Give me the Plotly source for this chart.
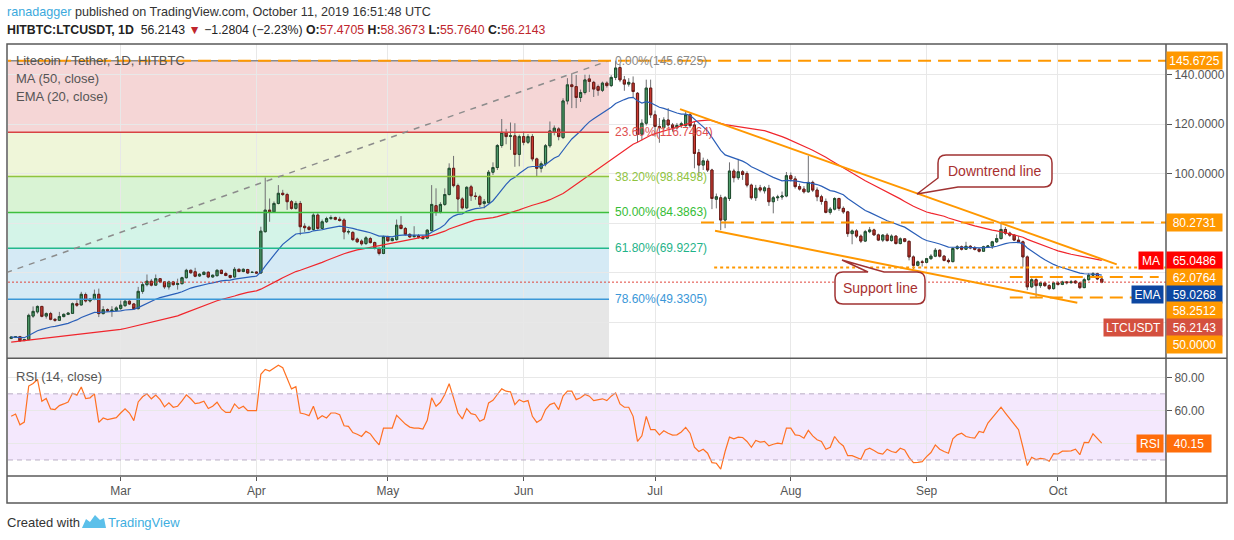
import pandas as pd
import plotly.graph_objects as go

# HITBTC:LTCUSDT daily candles, 2019-02-04 .. 2019-10-11
opens = [
    # Feb
    33.5, 34.0, 34.2, 32.6, 33.0, 42.5, 44.2, 46.4, 42.5, 43.5, 41.2, 40.8, 42.3, 43.2, 43.6, 47.5, 47.0, 51.2, 48.6, 49.2,
    51.3, 43.5, 45.1, 44.6, 44.8,
    # Mar
    45.6, 46.7, 48.5, 47.4, 45.5, 52.5, 55.2, 56.6, 55.0, 57.6, 56.3, 54.3, 56.3, 55.3, 55.6, 58.0, 61.0, 60.4, 58.7, 59.3,
    60.2, 58.3, 58.8, 61.0, 59.7, 58.9, 58.3, 61.4, 60.5, 61.3, 60.1,
    # Apr
    60.3, 59.9, 76.6, 85.3, 84.6, 88.0, 92.1, 91.6, 88.7, 86.0, 88.0, 78.8, 78.4, 77.5, 83.3, 77.9, 80.6, 81.9, 82.3, 81.6,
    81.3, 76.5, 76.3, 73.6, 72.8, 71.8, 73.8, 72.2, 69.8, 67.8,
    # May
    74.5, 73.0, 73.4, 79.2, 77.9, 75.5, 74.6, 74.9, 74.5, 74.0, 77.0, 87.1, 84.6, 87.6, 91.6, 102.2, 95.2, 89.8, 86.2, 94.7,
    91.0, 90.7, 88.0, 88.3, 100.6, 102.5, 111.4, 116.6, 115.1, 115.3, 107.8,
    # Jun
    115.0, 112.7, 115.0, 106.0, 102.2, 104.0, 111.3, 116.8, 118.1, 114.6, 129.4, 135.9, 135.2, 130.8, 132.8, 138.3, 136.9,
    135.2, 133.7, 136.6, 135.6, 138.9, 142.9, 137.9, 136.2, 136.6, 132.5, 116.0, 120.4, 134.6,
    # Jul
    123.8, 119.1, 118.6, 121.7, 119.7, 118.6, 119.5, 119.4, 123.8, 119.7, 108.5, 103.5, 105.1, 101.5, 89.7, 90.3, 81.3,
    90.0, 101.1, 98.4, 100.8, 100.1, 95.4, 90.3, 94.3, 93.1, 94.1, 88.7, 90.3, 90.6, 91.0,
    # Aug
    99.2, 97.9, 94.8, 93.8, 92.7, 96.5, 93.4, 90.7, 88.8, 84.4, 85.7, 90.0, 86.0, 84.6, 75.8, 76.9, 74.8, 72.8, 76.6, 77.3,
    75.3, 73.2, 75.2, 73.0, 74.8, 71.8, 73.7, 72.7, 66.4, 63.0, 64.4,
    # Sep
    64.2, 65.7, 66.7, 69.1, 66.7, 65.0, 64.5, 69.8, 70.5, 69.5, 70.7, 70.0, 69.5, 68.7, 70.5, 70.8, 72.5, 73.8, 77.5, 76.0,
    75.2, 73.2, 72.5, 66.4, 54.3, 57.2, 54.8, 55.9, 54.8, 53.6,
    # Oct
    55.9, 55.3, 56.3, 56.0, 56.6, 55.9, 54.0, 57.2, 59.0, 59.6, 57.4705,
]
highs = [
    34.3, 34.4, 34.5, 33.3, 43.5, 46.4, 46.8, 46.6, 44.0, 44.2, 41.6, 44.2, 43.6, 44.0, 48.0, 48.9, 52.3, 52.0, 49.8, 53.2,
    53.6, 46.5, 45.6, 46.5, 46.5,
    48.8, 48.9, 48.9, 47.8, 54.3, 56.3, 59.3, 57.5, 59.3, 57.8, 56.6, 56.8, 56.7, 57.6, 58.4, 61.6, 61.3, 62.0, 59.8, 60.6,
    60.6, 59.3, 61.4, 61.3, 60.4, 59.2, 62.3, 61.7, 61.8, 61.6, 60.5,
    60.6, 78.6, 98.5, 90.0, 88.8, 95.4, 93.5, 92.3, 89.4, 89.0, 89.0, 80.0, 79.0, 84.0, 84.0, 81.5, 82.6, 83.2, 82.7, 82.6,
    82.0, 77.5, 76.8, 74.2, 73.5, 74.8, 74.5, 72.6, 70.3, 75.0,
    75.0, 74.2, 81.5, 82.9, 78.5, 76.0, 78.8, 75.6, 75.0, 77.6, 95.4, 94.1, 88.5, 94.1, 104.2, 107.2, 96.0, 90.5, 95.0,
    95.5, 92.5, 91.5, 89.8, 101.5, 104.6, 112.0, 122.1, 118.1, 120.7, 120.4, 115.8,
    117.0, 116.0, 116.0, 106.5, 105.0, 112.0, 121.1, 119.5, 118.8, 130.5, 138.6, 140.6, 139.9, 134.0, 140.0, 140.0, 137.5,
    136.0, 137.2, 137.3, 139.8, 145.67, 144.3, 139.5, 138.6, 139.3, 133.0, 122.0, 138.0, 138.0,
    125.5, 122.5, 122.8, 126.5, 120.5, 120.5, 121.0, 125.0, 124.5, 121.0, 110.0, 106.5, 106.0, 102.0, 92.0, 91.5, 91.0,
    104.6, 102.0, 106.0, 101.5, 101.0, 96.0, 95.5, 95.5, 95.0, 95.5, 91.0, 91.5, 92.8, 100.7,
    100.5, 99.0, 96.0, 95.0, 107.2, 97.2, 94.5, 91.5, 90.0, 86.5, 90.5, 90.3, 86.8, 85.0, 77.5, 77.6, 75.5, 77.3, 78.5,
    77.8, 75.8, 75.6, 76.0, 75.5, 75.2, 74.3, 74.0, 73.0, 67.0, 64.9, 65.2,
    66.0, 67.5, 70.0, 69.5, 67.2, 65.8, 70.3, 71.2, 71.0, 72.5, 71.2, 70.8, 70.0, 70.9, 71.2, 72.9, 75.5, 80.6, 78.5, 76.6,
    75.6, 74.8, 73.0, 67.0, 57.8, 57.8, 56.4, 56.3, 55.4, 56.4,
    56.6, 56.8, 56.6, 57.1, 57.0, 56.4, 58.0, 59.8, 60.3, 60.0, 58.3673,
]
lows = [
    33.2, 33.7, 32.3, 32.4, 32.9, 41.8, 43.5, 42.0, 41.5, 40.8, 40.2, 40.5, 42.0, 42.9, 43.4, 46.2, 46.8, 48.0, 48.0, 48.9,
    42.1, 43.2, 44.2, 42.2, 44.4,
    45.0, 46.3, 47.0, 45.0, 45.2, 51.5, 54.5, 54.5, 54.8, 55.8, 53.5, 53.2, 54.8, 53.2, 55.3, 57.7, 59.6, 58.2, 58.3, 59.0,
    57.8, 58.0, 58.6, 59.4, 58.6, 57.6, 58.0, 60.2, 60.2, 59.6, 59.9,
    59.6, 59.6, 76.2, 80.6, 84.2, 87.6, 91.0, 85.4, 85.5, 85.5, 75.2, 76.5, 77.0, 77.0, 77.4, 77.5, 80.1, 81.3, 81.2, 80.7,
    73.5, 75.5, 72.8, 72.0, 71.0, 71.2, 71.8, 69.4, 67.0, 67.5,
    72.5, 72.7, 73.0, 77.5, 75.0, 74.0, 74.2, 73.8, 73.4, 73.6, 76.8, 83.0, 84.0, 87.0, 91.2, 94.5, 84.6, 85.5, 85.8, 89.0,
    89.5, 86.5, 86.0, 88.0, 99.5, 101.5, 110.5, 111.9, 109.6, 102.8, 103.0,
    111.5, 112.0, 105.0, 98.8, 100.5, 103.0, 110.5, 115.5, 113.5, 114.0, 128.0, 126.5, 126.5, 129.0, 132.0, 133.0, 131.0,
    131.5, 133.0, 134.8, 135.0, 137.8, 137.0, 133.5, 135.2, 131.0, 112.7, 113.5, 119.5, 122.5,
    115.0, 112.5, 117.5, 119.0, 117.0, 117.8, 118.5, 119.0, 118.5, 102.2, 98.8, 101.5, 100.7, 85.7, 86.0, 77.2, 78.0, 89.0,
    96.5, 97.5, 97.5, 94.5, 89.5, 89.0, 92.5, 92.0, 87.0, 84.0, 89.0, 89.5, 90.5,
    96.8, 94.0, 93.2, 92.0, 92.3, 92.6, 88.9, 87.5, 84.0, 83.5, 85.2, 85.0, 83.8, 74.5, 71.5, 74.0, 72.0, 72.4, 76.0, 75.0,
    72.8, 72.4, 72.6, 72.6, 71.4, 71.5, 72.3, 65.0, 61.5, 62.6, 62.5,
    63.8, 65.2, 66.3, 66.2, 64.6, 63.8, 64.2, 69.2, 69.0, 69.2, 69.5, 69.0, 68.2, 68.5, 70.0, 69.6, 72.0, 73.5, 75.2, 74.5,
    72.8, 72.0, 62.4, 53.0, 53.8, 50.2, 53.9, 54.3, 53.0, 53.2,
    54.8, 55.0, 55.3, 55.6, 55.6, 53.4, 53.8, 56.8, 58.2, 57.0, 55.764,
]
closes = [
    34.0, 34.1, 32.5, 33.0, 42.8, 44.4, 46.4, 42.4, 43.5, 41.2, 40.8, 42.3, 43.2, 43.7, 47.5, 46.9, 51.3, 48.6, 49.3, 51.3,
    43.5, 45.1, 44.6, 44.9, 45.8,
    46.9, 48.5, 47.4, 45.5, 52.5, 55.2, 56.6, 55.0, 57.6, 56.3, 54.3, 56.3, 55.2, 55.6, 58.0, 61.0, 60.0, 58.6, 59.4, 60.2,
    58.3, 59.0, 61.0, 59.7, 58.9, 58.1, 61.4, 60.5, 61.4, 59.9, 60.2,
    59.9, 76.8, 85.3, 84.5, 88.0, 92.1, 91.6, 88.7, 86.0, 88.0, 78.6, 78.2, 77.5, 83.3, 77.9, 80.6, 81.9, 82.3, 81.6, 81.1,
    76.5, 76.6, 73.4, 72.5, 71.7, 74.1, 72.2, 69.8, 67.8, 74.5,
    72.9, 73.8, 79.2, 77.9, 75.5, 74.5, 74.9, 74.4, 73.8, 77.2, 87.6, 84.6, 87.6, 91.6, 102.2, 95.2, 89.8, 86.2, 94.5, 91.1,
    90.8, 87.6, 88.7, 100.6, 102.5, 111.4, 116.7, 115.0, 115.3, 107.8, 115.0,
    112.7, 115.0, 106.0, 102.2, 104.0, 111.3, 117.3, 118.4, 115.0, 129.4, 135.9, 135.2, 130.8, 132.8, 137.9, 137.3, 134.2,
    133.7, 136.6, 135.6, 138.9, 142.7, 137.9, 136.2, 136.9, 133.2, 115.9, 120.4, 134.6, 123.8,
    119.1, 118.6, 121.7, 119.7, 118.6, 119.5, 120.2, 123.8, 119.4, 108.2, 103.5, 105.2, 101.5, 90.0, 90.7, 81.3, 90.3,
    101.1, 98.4, 100.8, 99.7, 95.4, 90.3, 94.1, 93.4, 94.3, 88.7, 90.3, 90.6, 91.0, 99.2,
    97.9, 94.8, 93.8, 92.7, 96.5, 93.4, 90.7, 88.8, 84.4, 85.7, 90.0, 86.0, 84.6, 75.8, 76.9, 74.8, 72.8, 76.6, 77.3, 75.3,
    73.2, 75.2, 73.0, 74.8, 71.8, 73.7, 72.7, 66.4, 63.0, 64.4, 64.2,
    65.7, 66.7, 69.1, 66.7, 65.0, 64.5, 69.8, 70.5, 69.5, 70.7, 70.0, 69.5, 68.7, 70.5, 70.8, 72.5, 73.8, 77.5, 76.0, 75.2,
    73.2, 72.5, 66.4, 54.3, 57.2, 54.8, 55.9, 54.8, 53.6, 55.9,
    55.3, 56.3, 56.0, 56.3, 55.9, 54.0, 57.2, 59.0, 59.6, 57.5, 56.2143,
]

# RSI (14, close) as drawn in the lower pane, one value per candle
rsi_values = [
    56.4, 57.8, 51.3, 52.9, 74.7, 76.3, 78.7, 65.5, 67.2, 60.9, 60.5, 62.9, 63.9, 65.1, 70.4, 69.2, 74.1, 67.2, 67.6, 70,
    52.7, 55.4, 54.4, 54.8, 55.6, 58.4, 60.9, 58.4, 53.8, 65.1, 68.2, 70, 67, 69.2, 66.5, 62.1, 64.5, 61.9, 62.5, 65.7,
    69.4, 67, 64.1, 64.5, 65.5, 61.1, 62.5, 64.9, 60.9, 58.8, 58.8, 63.9, 61.1, 62.5, 59.8, 59.8, 59.8, 81.8, 84.8, 83.8,
    85.4, 87.3, 85.8, 79.7, 73, 74.3, 58.4, 57.8, 56.8, 62.5, 54.8, 56.8, 55.4, 58.4, 58.4, 57.4, 50.7, 50.3, 46.6, 45.6,
    44.2, 47.3, 45.8, 42.2, 39.1, 49.3, 49.1, 49.3, 57, 54.4, 51.7, 49.9, 49.3, 49.3, 48.7, 54, 67.6, 62.5, 64.9, 69.6,
    76.1, 67.6, 58.4, 54.8, 61.1, 58, 57.4, 53.4, 54.8, 64.5, 66.1, 69.6, 73, 71.6, 71.2, 63.5, 66.5, 65.1, 65.9,
    56.4, 52.7, 54.4, 60.5, 63.5, 64.5, 60.5, 68.6, 71.6, 71.6, 66.5, 67.6, 69.6, 68.6, 65.9, 66.5, 67, 65.9, 68.6, 70.6,
    63.9, 61.9, 61.9, 56.4, 41.2, 44.6, 56.4, 48.3, 48.3, 45.2, 47.7, 46.2, 45, 45.2, 46.9, 49.7, 46.2, 37.7, 35.1, 36.5,
    34.1, 28.4, 28, 24.5, 35.1, 43.8, 42.8, 43.8, 43.6, 41.2, 37.7, 41.8, 40.8, 41.2, 38.5, 39.5, 40.2, 39.7, 49.3, 49.3,
    45.2, 44.8, 43.2, 47.9, 44.6, 42.2, 41.2, 36.5, 37.7, 44.2, 40.6, 38.5, 32.6, 32.6, 31.6, 30.4, 36.1, 37.1, 35.7, 34.1,
    33.5, 36.5, 35.1, 34.5, 37.1, 36.1, 31.6, 28.4, 28.6, 29, 32, 34.5, 39.1, 36.5, 35.1, 34.1, 42.8, 45.2,
    46.2, 44.2, 43.6, 43.2, 47.3, 46.6, 52.3, 55.4, 58.4, 61.9, 58.4, 55, 51.7, 48.3, 37.7,
    26.6, 31.6, 30.2, 31, 30.6, 29.2, 33.8, 33.6, 35.3, 35.3, 35.5, 36.5, 33.2, 40.7, 40.5, 45.8, 42.9, 40.15,
]

# MA(50) for the first 49 days, where the chart had older history behind it
ma50_head = [
    32.0, 32.2, 32.4, 32.6, 32.8, 33.0, 33.2, 33.4, 33.6, 33.8, 34.0, 34.2, 34.5, 34.7, 34.9, 35.1, 35.3, 35.5, 35.7, 35.9,
    36.1, 36.3, 36.5, 36.7, 36.9, 37.1, 37.5, 37.9, 38.3, 38.7, 39.1, 39.5, 39.9, 40.3, 40.7, 41.1, 41.5, 42.0, 42.6, 43.3,
    44.0, 44.7, 45.4, 46.1, 46.8, 47.5, 48.1, 48.7, 49.2,
]

# Fibonacci retracement (Dec-2018 low -> Jun-2019 high)
fib_dates = ["2018-12-05 10:00", "2019-06-20 12:00"]
fib_ratios = ["0.00%", "23.60%", "38.20%", "50.00%", "61.80%", "78.60%"]
fib_prices = [145.6725, 116.7464, 98.8498, 84.3863, 69.9227, 49.3305]
fib_bottom = 23.0893

# horizontal levels drawn by the author
level_prices = [145.6725, 80.2731, 62.0764, 58.2512, 50.0]
level_starts = ["2019-02-01", "2019-07-11 12:00", "2019-07-14 12:00", "2019-09-20", "2019-09-20"]
level_ends = ["2019-10-26", "2019-10-26", "2019-10-26", "2019-10-24", "2019-10-24"]

# trend lines
downtrend_dates = ["2019-07-06 17:00", "2019-10-14 10:00"]
downtrend_prices = [126.1, 63.4]
support_dates = ["2019-07-14 17:00", "2019-10-05 10:00"]
support_prices = [77.0, 47.9]

# price-scale tags (value, colour, name)
tag_values = [145.6725, 80.2731, 65.0486, 62.0764, 59.0268, 58.2512, 56.2143, 50.0]
tag_colors = ["#ff9800", "#ff9800", "#ff0000", "#ff9800", "#0d47a1", "#ff9800", "#d4503f", "#ff9800"]
tag_names = ["", "", "MA", "", "EMA", "", "LTCUSDT", ""]
rsi_last = 40.15

# ------------------------------------------------------------------
W, H = 1234, 540
ML, MR, MT, MB = 8, 68, 44, 64
PW, PH = W - ML - MR, H - MT - MB
PANE_SPLIT = 358.3            # pixel row between price and RSI panes
price_range = [25.45, 152.4]
rsi_range = [20.3, 91.5]
x_range = ["2019-02-03 06:30", "2019-10-25 16:00"]
FONT = "Liberation Sans, Arial, sans-serif"


def fx(px):
    return (px - ML) / PW


def fy(py):
    return (H - MB - py) / PH


def price_px(p):
    return MT + (price_range[1] - p) / (price_range[1] - price_range[0]) * (PANE_SPLIT - MT)


dates = pd.date_range("2019-02-04", "2019-10-11", freq="D")
close_s = pd.Series(closes, index=dates)
ema20 = close_s.ewm(span=20, adjust=False).mean()
ma50 = close_s.rolling(50).mean()
ma50.iloc[:len(ma50_head)] = ma50_head

body_hi = [max(o, c) for o, c in zip(opens, closes)]
body_lo = [min(o, c) for o, c in zip(opens, closes)]

fig = go.Figure()

# wicks (grey) then bodies with dark borders
fig.add_trace(go.Candlestick(
    x=dates, open=opens, high=highs, low=lows, close=closes,
    increasing=dict(line=dict(color="#6f6f72", width=1), fillcolor="#4f9d6b"),
    decreasing=dict(line=dict(color="#6f6f72", width=1), fillcolor="#cc3b32"),
    hoverinfo="skip", showlegend=False, xaxis="x", yaxis="y",
))
fig.add_trace(go.Candlestick(
    x=dates, open=opens, high=body_hi, low=body_lo, close=closes,
    increasing=dict(line=dict(color="#1f4d2e", width=1), fillcolor="#4f9d6b"),
    decreasing=dict(line=dict(color="#6b1b16", width=1), fillcolor="#cc3b32"),
    hoverinfo="skip", showlegend=False, xaxis="x", yaxis="y",
))
fig.add_trace(go.Scatter(x=dates, y=ma50, mode="lines", line=dict(color="#f0262d", width=1.2),
                         hoverinfo="skip", showlegend=False, xaxis="x", yaxis="y"))
fig.add_trace(go.Scatter(x=dates, y=ema20, mode="lines", line=dict(color="#2b5fb8", width=1.2),
                         hoverinfo="skip", showlegend=False, xaxis="x", yaxis="y"))
fig.add_trace(go.Scatter(x=dates, y=rsi_values, mode="lines", line=dict(color="#ff7122", width=1.2),
                         hoverinfo="skip", showlegend=False, xaxis="x2", yaxis="y2"))

shapes = []
annotations = []

# --- fib retracement ---
fib_band_colors = ["#f5d6d6", "#eff6d9", "#d9f3d4", "#d4f4e8", "#d5eaf5", "#e6e6e6"]
fib_line_colors = ["#8a8a8a", "#d84343", "#8fc43f", "#3dbf3d", "#22b88c", "#3b98d8"]
fib_text_colors = ["#8a8a8a", "#e05050", "#8fc43f", "#36bd36", "#1fb389", "#3a97d8"]
edges = fib_prices + [fib_bottom]
for i in range(len(fib_prices)):
    shapes.append(dict(type="rect", xref="x", yref="y", x0=fib_dates[0], x1=fib_dates[1],
                       y0=edges[i + 1], y1=edges[i], fillcolor=fib_band_colors[i],
                       line=dict(width=0), layer="below"))
for i, p in enumerate(fib_prices):
    shapes.append(dict(type="line", xref="x", yref="y", x0=fib_dates[0], x1=fib_dates[1],
                       y0=p, y1=p, line=dict(color=fib_line_colors[i], width=1.5)))
    annotations.append(dict(xref="paper", yref="y", x=fx(613), y=p, xanchor="left", yanchor="middle",
                            text=f"{fib_ratios[i]}({p:.4f})", showarrow=False,
                            font=dict(family=FONT, size=12, color=fib_text_colors[i])))
shapes.append(dict(type="line", xref="x", yref="y", x0=fib_dates[0], x1=fib_dates[1],
                   y0=fib_bottom, y1=fib_prices[0], line=dict(color="#8c8c8c", width=1.5, dash="6px,6px")))

# --- RSI band ---
shapes.append(dict(type="rect", xref="paper", yref="y2", x0=0, x1=1, y0=30, y1=70,
                   fillcolor="#f4e8fd", line=dict(width=0), layer="below"))
for v in (30, 70):
    shapes.append(dict(type="line", xref="paper", yref="y2", x0=0, x1=1, y0=v, y1=v,
                       line=dict(color="#b9aec4", width=1, dash="5px,4px")))

# --- current price line ---
shapes.append(dict(type="line", xref="paper", yref="y", x0=0, x1=1, y0=closes[-1], y1=closes[-1],
                   line=dict(color="#e0443a", width=1, dash="2px,2px")))

# --- author's levels ---
level_dash = ["13px,7px", "13px,7px", "3px,3px", "13px,7px", "13px,7px"]
for p, s, e, d in zip(level_prices, level_starts, level_ends, level_dash):
    shapes.append(dict(type="line", xref="x", yref="y", x0=s, x1=e, y0=p, y1=p,
                       line=dict(color="#ff9800", width=2, dash=d)))

# --- trend lines ---
for xs, ys in ((downtrend_dates, downtrend_prices), (support_dates, support_prices)):
    shapes.append(dict(type="line", xref="x", yref="y", x0=xs[0], x1=xs[1], y0=ys[0], y1=ys[1],
                       line=dict(color="#ff9800", width=2)))


# --- callouts ---
def pt(x, y):
    return f"{fx(x):.5f},{fy(y):.5f}"


def callout(x0, y0, x1, y1, r, pointer, side):
    p = [f"M{pt(x0 + r, y0)}"]
    if side == "top":
        p += [f"L{pt(*pointer[0])}", f"L{pt(*pointer[1])}", f"L{pt(*pointer[2])}"]
    p += [f"L{pt(x1 - r, y0)}", f"Q{pt(x1, y0)} {pt(x1, y0 + r)}",
          f"L{pt(x1, y1 - r)}", f"Q{pt(x1, y1)} {pt(x1 - r, y1)}"]
    if side == "bottomleft":
        p += [f"L{pt(*pointer[0])}", f"L{pt(*pointer[1])}", f"L{pt(*pointer[2])}"]
    else:
        p += [f"L{pt(x0 + r, y1)}", f"Q{pt(x0, y1)} {pt(x0, y1 - r)}"]
    p += [f"L{pt(x0, y0 + r)}", f"Q{pt(x0, y0)} {pt(x0 + r, y0)}", "Z"]
    return " ".join(p)


shapes.append(dict(type="path", xref="paper", yref="paper",
                   path=callout(938, 155, 1052, 187, 8, [(958, 187), (917, 194), (938, 178)], "bottomleft"),
                   fillcolor="rgba(255,255,255,0.96)", line=dict(color="#a03232", width=1.5)))
shapes.append(dict(type="path", xref="paper", yref="paper",
                   path=callout(835, 272, 925, 304, 8, [(868, 272), (842, 260), (884, 272)], "top"),
                   fillcolor="rgba(255,255,255,0.96)", line=dict(color="#a03232", width=1.5)))
annotations.append(dict(xref="paper", yref="paper", x=fx(995), y=fy(171), xanchor="center", yanchor="middle",
                        text="Downtrend line", showarrow=False,
                        font=dict(family=FONT, size=14, color="#a83030")))
annotations.append(dict(xref="paper", yref="paper", x=fx(880), y=fy(288), xanchor="center", yanchor="middle",
                        text="Support line", showarrow=False,
                        font=dict(family=FONT, size=14, color="#a83030")))

# --- frame ---
frame = dict(color="#5a5a5a", width=1.5)
shapes.append(dict(type="rect", xref="paper", yref="paper", x0=fx(7), x1=fx(1227), y0=fy(503), y1=fy(44),
                   line=frame))
shapes.append(dict(type="line", xref="paper", yref="paper", x0=fx(1166), x1=fx(1166), y0=fy(503), y1=fy(44),
                   line=frame))
for row in (PANE_SPLIT, 476):
    shapes.append(dict(type="line", xref="paper", yref="paper", x0=fx(7), x1=fx(1227), y0=fy(row), y1=fy(row),
                       line=frame))

# --- price-scale tags, stacked like TradingView does ---
prev = -1e9
for v, c, name in zip(tag_values, tag_colors, tag_names):
    ypx = max(price_px(v), prev + 16.9)
    prev = ypx
    annotations.append(dict(xref="paper", yref="paper", x=fx(1166), y=fy(ypx), xanchor="left", yanchor="middle",
                            text=f"{v:.4f}", showarrow=False, bgcolor=c, width=53, height=15, borderpad=1,
                            font=dict(family=FONT, size=12, color="white")))
    if name:
        annotations.append(dict(xref="paper", yref="paper", x=fx(1164), y=fy(ypx), xanchor="right",
                                yanchor="middle", text=name, showarrow=False, bgcolor=c,
                                width=len(name) * 7 + 8, height=15, borderpad=1,
                                font=dict(family=FONT, size=12, color="white")))

rsi_px = PANE_SPLIT + (rsi_range[1] - rsi_last) / (rsi_range[1] - rsi_range[0]) * (476 - PANE_SPLIT)
annotations.append(dict(xref="paper", yref="paper", x=fx(1166), y=fy(rsi_px), xanchor="left", yanchor="middle",
                        text=f"{rsi_last:.2f}", showarrow=False, bgcolor="#ff6d0a", width=42, height=15,
                        borderpad=1, font=dict(family=FONT, size=12, color="white")))
annotations.append(dict(xref="paper", yref="paper", x=fx(1164), y=fy(rsi_px), xanchor="right", yanchor="middle",
                        text="RSI", showarrow=False, bgcolor="#ff6d0a", width=24, height=15, borderpad=1,
                        font=dict(family=FONT, size=12, color="white")))

# --- pane legends and header ---
for txt, ypx in (("Litecoin / Tether, 1D, HITBTC", 60), ("MA (50, close)", 78), ("EMA (20, close)", 96),
                 ("RSI (14, close)", 376)):
    annotations.append(dict(xref="paper", yref="paper", x=fx(14), y=fy(ypx), xanchor="left", yanchor="middle",
                            text=txt, showarrow=False, font=dict(family=FONT, size=13, color="#555555")))

red = "#c0262d"
annotations.append(dict(
    xref="paper", yref="paper", x=fx(5), y=fy(12), xanchor="left", yanchor="middle", showarrow=False,
    text="<span style='color:#3ba9dd'>ranadagger</span> published on TradingView.com, October 11, 2019 16:51:48 UTC",
    font=dict(family=FONT, size=12.6, color="#333333")))
annotations.append(dict(
    xref="paper", yref="paper", x=fx(5), y=fy(30), xanchor="left", yanchor="middle", showarrow=False,
    text=(f"<b>HITBTC:LTCUSDT, 1D</b>  56.2143 <span style='color:{red}'>▼</span> −1.2804 (−2.23%) "
          f"<b>O:</b><span style='color:{red}'>57.4705</span> <b>H:</b><span style='color:{red}'>58.3673</span> "
          f"<b>L:</b><span style='color:{red}'>55.7640</span> <b>C:</b><span style='color:{red}'>56.2143</span>"),
    font=dict(family=FONT, size=12.3, color="#222222")))
annotations.append(dict(xref="paper", yref="paper", x=fx(5), y=fy(522), xanchor="left", yanchor="middle",
                        showarrow=False, text="Created with", font=dict(family=FONT, size=13, color="#333333")))
annotations.append(dict(xref="paper", yref="paper", x=fx(106), y=fy(522), xanchor="left", yanchor="middle",
                        showarrow=False, text="TradingView", font=dict(family=FONT, size=13, color="#3eaee0")))
logo = [(82, 528), (86, 519), (90, 522), (95, 515), (100, 520), (104, 518), (106, 528)]
shapes.append(dict(type="path", xref="paper", yref="paper",
                   path="M" + " L".join(pt(*p) for p in logo) + " Z",
                   fillcolor="#5cc0ea", line=dict(width=0)))

grid = "#e8e8e8"
axis_font = dict(family=FONT, size=12, color="#555555")
fig.update_layout(
    width=W, height=H, margin=dict(l=ML, r=MR, t=MT, b=MB),
    paper_bgcolor="white", plot_bgcolor="white", showlegend=False, hovermode=False,
    shapes=shapes, annotations=annotations,
    xaxis=dict(domain=[0, 1], anchor="y", range=x_range, type="date", dtick="M1", showticklabels=False,
               showgrid=True, gridcolor=grid, zeroline=False, rangeslider=dict(visible=False), fixedrange=True),
    xaxis2=dict(domain=[0, 1], anchor="y2", matches="x", range=x_range, type="date", dtick="M1",
                tickformat="%b", showgrid=True, gridcolor=grid, ticks="outside", ticklen=4,
                tickcolor="#555555", tickfont=axis_font, zeroline=False, rangeslider=dict(visible=False)),
    yaxis=dict(domain=[fy(PANE_SPLIT), 1], anchor="x", side="right", range=price_range,
               tickvals=[40, 60, 80, 100, 120, 140],
               ticktext=["", "", "", "100.0000", "120.0000", "140.0000"],
               showgrid=True, gridcolor=grid, ticks="outside", ticklen=5, tickcolor="#555555",
               tickfont=axis_font, zeroline=False),
    yaxis2=dict(domain=[0, fy(PANE_SPLIT)], anchor="x2", side="right", range=rsi_range,
                tickvals=[40, 60, 80], ticktext=["", "60.00", "80.00"],
                showgrid=True, gridcolor=grid, ticks="outside", ticklen=5, tickcolor="#555555",
                tickfont=axis_font, zeroline=False),
)

fig.write_html("out.html", config={"displayModeBar": False},
               post_script="document.body.style.margin='0';")
